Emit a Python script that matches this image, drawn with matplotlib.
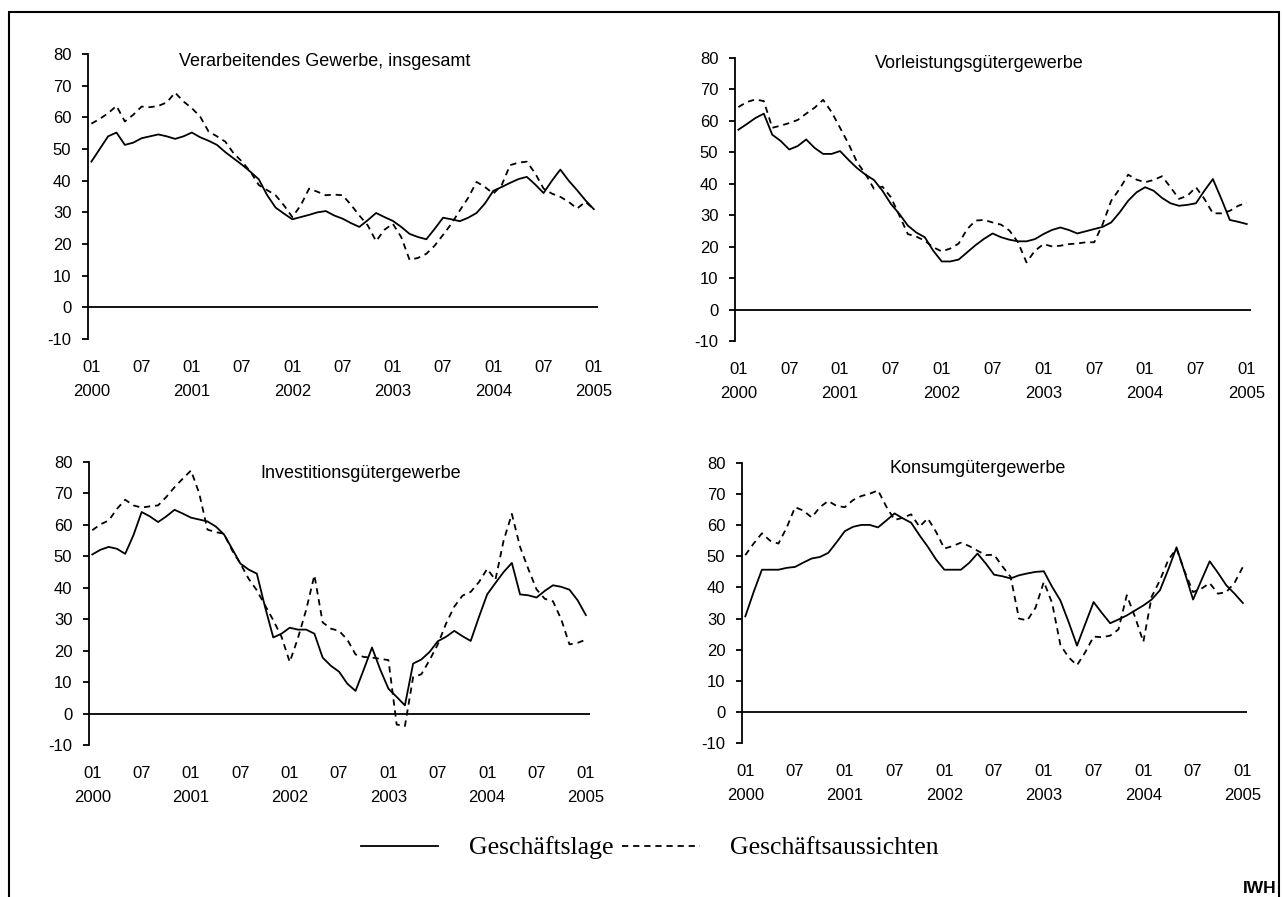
import numpy as np
import matplotlib
matplotlib.use("Agg")
import matplotlib.pyplot as plt
from matplotlib.lines import Line2D
from matplotlib.patches import Rectangle

plt.rcParams['font.family'] = ['Liberation Sans', 'DejaVu Sans']
plt.rcParams['axes.unicode_minus'] = False
plt.rcParams['lines.scale_dashes'] = False

# -------------------------------
# Data (monthly, 01/2000 - 01/2005)
# -------------------------------
titles = ["Verarbeitendes Gewerbe, insgesamt", "Vorleistungsgütergewerbe",
          "Investitionsgütergewerbe", "Konsumgütergewerbe"]

vg_lage = [46, 50, 54, 55.2, 51.3, 52, 53.4, 54, 54.6, 54,
           53.2, 54, 55.2, 53.7, 52.6, 51.3, 49, 47, 45, 42.8,
           40.4, 35.4, 31.5, 29.6, 27.8, 28.5, 29.2, 30, 30.4, 29,
           28, 26.6, 25.4, 27.5, 29.8, 28.5, 27.3, 25.4, 23.2, 22.2,
           21.5, 24.8, 28.3, 27.8, 27.2, 28.3, 29.8, 32.8, 36.8, 38,
           39.3, 40.5, 41.2, 38.8, 36.1, 40, 43.5, 40, 37, 33.8, 31]
vg_auss = [58, 59.5, 61.3, 63.6, 58.7, 60.8, 63.4, 63.2, 63.6, 64.7,
           67.8, 65, 62.9, 60.2, 55.5, 54, 52.3, 48.6, 46, 42.8,
           38.6, 37, 35.4, 32.2, 28.5, 32.2, 37.5, 36.5, 35.4, 35.6,
           35.4, 32.4, 29, 25.9, 20.9, 24.5, 26.4, 22.2, 15, 15.6,
           16.9, 19.5, 22.9, 26.4, 30.6, 34.6, 39.6, 38, 35.9, 38.6,
           44.9, 45.7, 46, 42.3, 37.5, 35.9, 34.9, 33.3, 31.2, 33.3, 31]

vl_lage = [57.2, 59, 60.9, 62.3, 55.6, 53.6, 50.9, 52, 54.1, 51.4,
           49.5, 49.5, 50.4, 47.6, 45, 42.9, 41.2, 37.8, 33.6, 30.4,
           26.7, 24.5, 23, 18.7, 15.3, 15.3, 15.9, 18.2, 20.5, 22.5,
           24.2, 23, 22.2, 21.7, 21.7, 22.4, 24, 25.3, 26.1, 25.3,
           24.2, 24.9, 25.6, 26.3, 27.7, 30.9, 34.6, 37.3, 38.9, 37.8,
           35.5, 33.8, 33, 33.3, 33.8, 37.8, 41.5, 35.2, 28.5, 27.9, 27.2]
vl_auss = [64.4, 66, 66.8, 66.3, 57.8, 58.5, 59.3, 60.3, 62.3, 64.2,
           66.7, 62.8, 57.8, 52.7, 46.9, 43.1, 38.4, 39.1, 35.7, 29.9,
           24, 23.2, 21.9, 19.8, 18.5, 19.4, 21, 25.6, 28.3, 28.5,
           27.7, 27, 25.1, 21.4, 15, 18.7, 20.8, 20.1, 20.3, 20.8,
           21, 21.4, 21.4, 27.2, 34.6, 38.4, 42.9, 41.3, 40.5, 41.2,
           42.4, 38.9, 35.2, 36.2, 38.9, 35.2, 30.6, 30.6, 31.4, 33, 34]

ig_lage = [50.6, 52.1, 53, 52.4, 50.8, 56.7, 64.1, 62.7, 60.9, 62.7,
           64.8, 63.6, 62.3, 61.7, 61.1, 59.5, 57, 52.4, 47.7, 45.8,
           44.5, 33.9, 24.2, 25.4, 27.3, 26.7, 26.7, 25.4, 17.8, 15.2,
           13.3, 9.5, 7.2, 14, 21, 14, 7.9, 5.3, 2.6, 15.9,
           17.2, 19.6, 23, 24.4, 26.3, 24.6, 23.1, 30.7, 37.9, 41.5,
           45, 47.9, 37.9, 37.6, 36.9, 39, 40.8, 40.3, 39.4, 36, 31.3]
ig_auss = [58.3, 60.2, 61.4, 65.1, 68, 66.2, 65.5, 65.9, 66.2, 68.9,
           72, 74.7, 77.3, 70, 58.5, 57.7, 57.2, 51.9, 47.7, 42.9,
           39.2, 34.4, 29.7, 24.4, 16.4, 24, 33, 44, 29, 27,
           26.3, 23.5, 18.8, 18, 17.8, 17.4, 17, -3.5, -4, 11.6,
           12.5, 17, 22, 28.6, 34, 37.5, 38.7, 41.8, 46, 42.5,
           55, 63.5, 53, 46, 39.5, 36.5, 35.7, 30, 22, 22.5, 23.5]

kg_lage = [30.7, 38.5, 45.7, 45.7, 45.7, 46.3, 46.6, 48, 49.3, 49.8,
           51.1, 54.5, 58.1, 59.5, 60.1, 60.1, 59.3, 61.5, 63.8, 62.2,
           60.8, 56.8, 53.1, 49, 45.7, 45.7, 45.7, 47.9, 50.9, 47.7,
           44.1, 43.6, 42.9, 43.9, 44.5, 45, 45.2, 40.2, 35.8, 28.8,
           21.3, 28.3, 35.3, 31.8, 28.5, 29.7, 31, 32.6, 34.2, 36.1,
           39.1, 45.7, 52.9, 44.7, 36.1, 42.3, 48.4, 44.7, 40.7, 38, 35]
kg_auss = [50.4, 54.1, 57.4, 55, 54.1, 59.3, 65.8, 64.7, 62.5, 65.8,
           67.8, 66.2, 65.8, 68.1, 69.4, 70.1, 71.2, 66, 61.7, 62.4,
           63.5, 59.5, 62.2, 57.9, 52.5, 53.3, 54.4, 53.3, 51.8, 50.4,
           50.5, 46.8, 43.4, 30, 29.4, 33.5, 41.8, 35, 21.5, 17.5,
           15, 19.2, 24.2, 24, 24.5, 26.5, 37.5, 30.5, 22.5, 37,
           42.3, 48.8, 52.5, 45, 38.5, 39.6, 41.4, 38, 38.5, 41.5, 46.6]

lage = [vg_lage, vl_lage, ig_lage, kg_lage]
auss = [vg_auss, vl_auss, ig_auss, kg_auss]

tick_pos = list(range(0, 61, 6))
tick_labels = ["01\n2000", "07", "01\n2001", "07", "01\n2002", "07",
               "01\n2003", "07", "01\n2004", "07", "01\n2005"]

# -------------------------------
# Layout (pixels of the 1282x897 picture)
# -------------------------------
W, H = 1282, 897
# left, right, top(80), bottom(-10)
boxes = [(88, 598, 54, 339), (735, 1251, 58, 341),
         (89, 590, 462, 745), (742, 1247, 463, 743)]
title_xy = [(325, 62), (979, 63), (361, 473), (978, 468)]

fig = plt.figure(figsize=(W / 100, H / 100), dpi=100)

for i in range(4):
    l, r, t, b = boxes[i]
    ax = fig.add_axes([l / W, 1 - b / H, (r - l) / W, (b - t) / H])
    x = np.arange(len(lage[i]))
    ax.plot(x, lage[i], color='black', lw=1.3)
    ax.plot(x, auss[i], color='black', lw=1.3, linestyle=(0, (4.5, 3.5)))
    ax.axhline(0, color='black', lw=1.3)
    ax.set_xlim(-0.4, 60.5)
    ax.set_ylim(-10, 80)
    ax.set_yticks(range(-10, 81, 10))
    for s in ['top', 'right', 'bottom']:
        ax.spines[s].set_visible(False)
    ax.spines['left'].set_linewidth(1.3)
    ax.tick_params(axis='y', direction='out', length=4, width=1.3, pad=8, labelsize=12)
    ax.set_xticks(tick_pos)
    ax.set_xticklabels(tick_labels)
    ax.tick_params(axis='x', length=0, pad=15, labelsize=12)
    for lbl in ax.get_xticklabels():
        lbl.set_linespacing(1.75)
    ax.patch.set_visible(False)
    tx, ty = title_xy[i]
    fig.text(tx / W, 1 - ty / H, titles[i], fontsize=13, ha='center', va='center')

# legend
handles = [Line2D([], [], color='black', lw=1.3),
           Line2D([], [], color='black', lw=1.3, linestyle=(0, (4.5, 3.5)))]
fig.legend(handles, ["Geschäftslage", "Geschäftsaussichten"], loc='center',
           bbox_to_anchor=(650 / W, 1 - 848 / H), ncol=2, frameon=False,
           prop={'family': 'Liberation Serif', 'size': 18.5},
           handlelength=3.0, handletextpad=1.2, columnspacing=0.35)

fig.text(1277 / W, 1 - 888 / H, "IWH", fontsize=12.5, fontweight='bold',
         ha='right', va='center')

# outer frame
fig.add_artist(Rectangle((9 / W, -0.05), (1279 - 9) / W, 1.05 - 12 / H,
                         transform=fig.transFigure, fill=False, lw=1.5,
                         edgecolor='black', clip_on=False))

fig.savefig("out.png", dpi=100)
